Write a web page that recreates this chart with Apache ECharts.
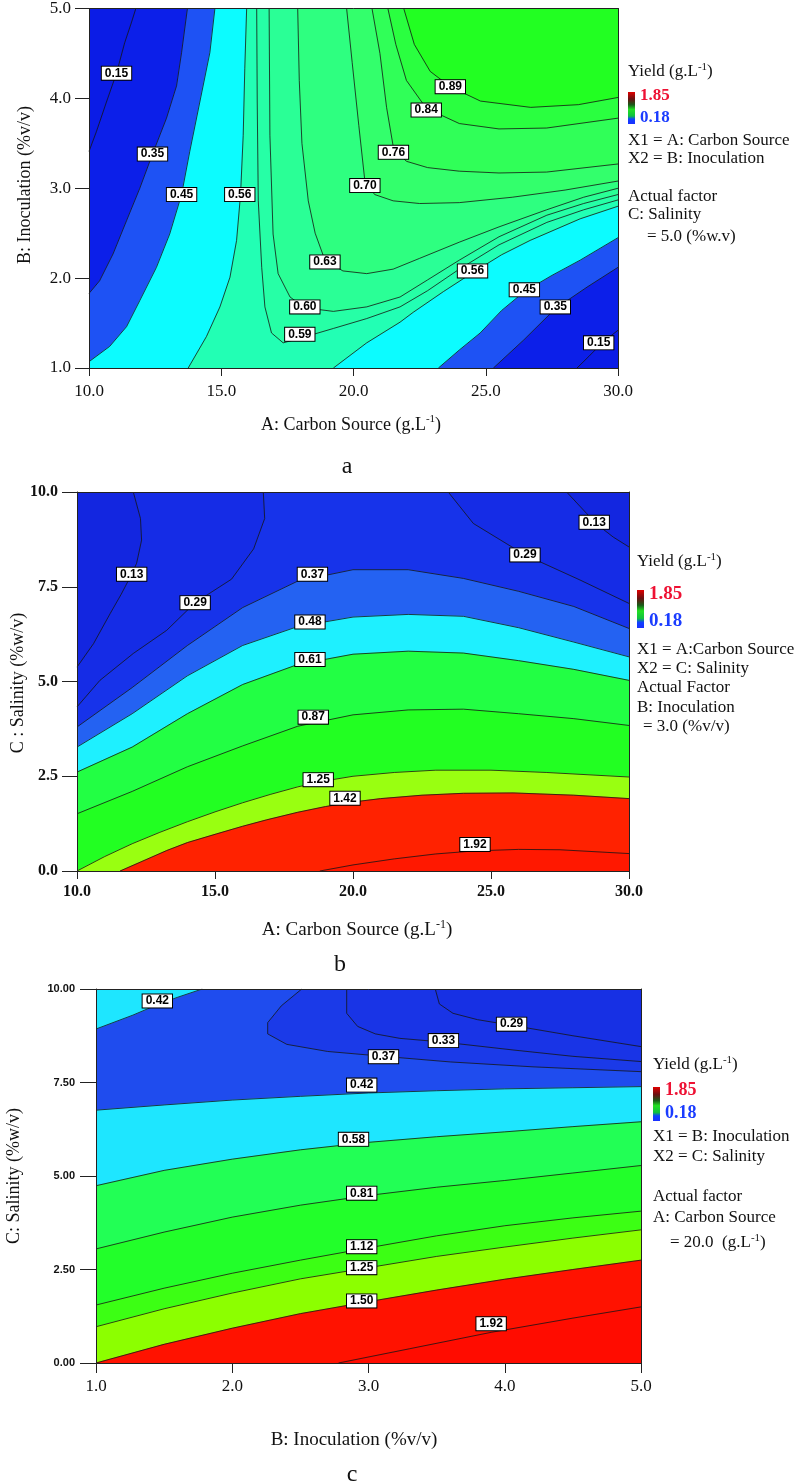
<!DOCTYPE html>
<html>
<head>
<meta charset="utf-8">
<script src="https://cdn.jsdelivr.net/npm/echarts@6/dist/echarts.min.js"></script>
<style>html,body{margin:0;padding:0;background:#fff}#c{width:798px;height:1483px}</style>
</head>
<body>
<div id="c"></div>
<script>
// ===================== DATA =====================
// ---- Panel a: A Carbon Source (x) vs B Inoculation (y), C = 5.0 ----
const aXRange = [10, 30], aYRange = [1, 5];
const a015L = [[11.77,5],[11.60,4.84],[11.35,4.62],[11.04,4.28],[10.66,3.96],[10.28,3.63],[10,3.41]];
const a015R = [[28.45,1],[28.9,1.13],[29.27,1.24],[29.65,1.34],[30,1.42]];
const a035L = [[13.72,5],[13.50,4.51],[13.31,4.14],[12.93,3.78],[12.40,3.38],[11.92,3.0],[11.42,2.64],[10.91,2.27],[10.40,1.97],[10,1.83]];
const a035R = [[25.29,1],[26.43,1.31],[27.63,1.66],[28.83,1.90],[30,2.12]];
const a045L = [[14.76,5],[14.57,4.51],[14.19,3.96],[13.81,3.41],[13.50,2.93],[13.05,2.49],[12.55,2.12],[11.92,1.75],[11.42,1.46],[10.78,1.24],[10,1.07]];
const a045R = [[23.21,1],[24.0,1.2],[24.79,1.39],[25.6,1.64],[26.46,1.85],[27.5,2.03],[28.57,2.2],[30,2.45]];
const a056L = [[15.96,5],[15.89,4.33],[15.83,3.59],[15.73,2.93],[15.58,2.42],[15.33,2.01],[14.95,1.68],[14.44,1.35],[13.75,1]];
const a056R = [[19.24,1],[20.5,1.28],[21.76,1.51],[22.26,1.62],[23.4,1.85],[24.5,2.06],[25.6,2.26],[26.68,2.42],[28.57,2.66],[30,2.80]];
const a059 = [[16.34,5],[16.36,3.96],[16.40,2.86],[16.53,2.12],[16.65,1.68],[16.90,1.39],[17.34,1.28],[17.97,1.33],[19.24,1.44],[20.5,1.55],[21.76,1.68],[22.8,1.86],[24.0,2.1],[25.5,2.37],[27.31,2.62],[28.7,2.76],[30,2.87]];
const a060 = [[16.81,5],[16.84,3.59],[16.96,2.49],[17.15,2.05],[17.60,1.79],[18.16,1.67],[19.24,1.63],[20.5,1.68],[21.76,1.79],[22.8,1.98],[24.0,2.2],[25.5,2.46],[27.31,2.70],[28.7,2.83],[30,2.93]];
const a063 = [[17.89,5],[17.95,4.2],[18.05,3.5],[18.29,2.86],[18.55,2.5],[18.92,2.2],[19.6,2.08],[20.5,2.05],[21.5,2.1],[22.5,2.22],[24,2.4],[25.5,2.57],[27.3,2.76],[28.7,2.9],[30,3.0]];
const a070 = [[19.74,5],[19.95,4.4],[20.2,3.7],[20.43,3.08],[20.8,2.93],[21.5,2.86],[22.5,2.83],[24,2.84],[26,2.9],[28,2.98],[30,3.08]];
const a076 = [[20.7,5],[21.0,4.5],[21.25,3.9],[21.51,3.45],[22.0,3.3],[22.8,3.23],[24.0,3.19],[25.5,3.17],[27.3,3.18],[30,3.27]];
const a084 = [[21.3,5],[21.6,4.6],[22.0,4.2],[22.75,3.89],[24,3.72],[25.5,3.66],[27.3,3.67],[30,3.78]];
const a089 = [[21.9,5],[22.3,4.6],[22.9,4.3],[23.66,4.13],[24.8,3.97],[26.7,3.9],[28.5,3.93],[30,4.01]];
const aLabels = [[11.04,4.28,'0.15'],[12.40,3.38,'0.35'],[13.50,2.93,'0.45'],[15.70,2.93,'0.56'],[17.97,1.375,'0.59'],[18.16,1.68,'0.60'],[18.92,2.18,'0.63'],[20.43,3.03,'0.70'],[21.51,3.40,'0.76'],[22.75,3.87,'0.84'],[23.66,4.13,'0.89'],[24.50,2.08,'0.56'],[26.46,1.87,'0.45'],[27.63,1.68,'0.35'],[29.27,1.28,'0.15']];

// ---- Panel b: A Carbon Source (x) vs C Salinity (y), B = 3.0 ----
const bXRange = [10, 30], bYRange = [0, 10];
const b013L = [[12.04,10],[12.3,9.3],[12.34,8.73],[12.16,8.12],[11.98,7.83],[11.6,7.3],[11.2,6.79],[10.6,6.0],[10,5.38]];
const b013R = [[27.74,10],[28.47,9.43],[28.74,9.2],[29.43,8.81],[30,8.55]];
const b029L = [[16.75,10],[16.8,9.3],[16.4,8.5],[15.6,7.7],[14.28,7.08],[13.25,6.35],[12.04,5.74],[10.83,5.03],[10,4.33]];
const b029R = [[23.45,10],[24.36,9.17],[26.23,8.34],[28.22,7.68],[30,7.06]];
const b037 = [[10,3.80],[12,4.84],[14,5.95],[16,6.95],[18,7.65],[20,7.95],[22,7.95],[24,7.72],[26,7.38],[28,6.98],[30,6.40]];
const b048 = [[10,3.27],[12,4.15],[14,5.15],[16,5.95],[18,6.45],[20,6.7],[22,6.77],[24,6.72],[26,6.42],[28,6.04],[30,5.65]];
const b061 = [[10,2.61],[12,3.27],[14,4.15],[16,4.92],[18,5.45],[20,5.72],[22,5.8],[24,5.75],[26,5.55],[28,5.32],[30,5.03]];
const b087 = [[10,1.51],[12,2.1],[14,2.75],[16,3.3],[18,3.82],[20,4.12],[22,4.25],[24,4.27],[26,4.15],[28,4.02],[30,3.84]];
const b125 = [[10,0],[11,0.38],[12,0.72],[13,1.02],[14,1.3],[15,1.56],[16,1.8],[17,2.02],[18,2.22],[19,2.38],[20,2.5],[21.5,2.6],[23,2.66],[25,2.66],[27,2.6],[30,2.48]];
const b142 = [[11.56,0],[12.5,0.3],[13.25,0.54],[14,0.75],[15.06,0.98],[16,1.18],[16.87,1.35],[18,1.55],[19,1.7],[20,1.82],[21,1.91],[22.5,2.0],[24,2.05],[25.8,2.06],[28,2.0],[30,1.91]];
const b192 = [[18.8,0],[20,0.16],[21.5,0.32],[23,0.45],[24.4,0.53],[26,0.57],[27.5,0.56],[30,0.46]];
const bLabels = [[11.98,7.83,'0.13'],[14.28,7.08,'0.29'],[18.53,7.83,'0.37'],[18.44,6.57,'0.48'],[18.44,5.58,'0.61'],[18.56,4.06,'0.87'],[18.74,2.41,'1.25'],[19.71,1.92,'1.42'],[24.42,0.70,'1.92'],[26.23,8.34,'0.29'],[28.74,9.20,'0.13']];

// ---- Panel c: B Inoculation (x) vs C Salinity (y), A = 20.0 ----
const cXRange = [1, 5], cYRange = [0, 10];
const c029 = [[3.49,10],[3.52,9.6],[3.62,9.35],[3.8,9.18],[4.05,9.03],[4.5,8.75],[5,8.46]];
const c033 = [[2.84,10],[2.84,9.35],[2.92,9.0],[3.05,8.8],[3.23,8.68],[3.55,8.58],[4.06,8.37],[4.5,8.2],[5,8.06]];
const c037 = [[2.51,10],[2.36,9.55],[2.26,9.1],[2.26,8.8],[2.4,8.52],[2.7,8.33],[3.11,8.2],[3.6,8.05],[4.2,7.92],[5,7.79]];
const c042a = [[1,8.93],[1.27,9.30],[1.45,9.58],[1.6,9.78],[1.78,10]];
const c042 = [[1,6.76],[1.5,6.9],[2,7.03],[2.5,7.13],[3,7.22],[3.5,7.28],[4,7.33],[4.5,7.36],[5,7.39]];
const c058 = [[1,4.74],[1.5,5.15],[2,5.45],[2.5,5.7],[3,5.9],[3.5,6.05],[4,6.18],[4.5,6.32],[5,6.45]];
const c081 = [[1,3.05],[1.5,3.5],[2,3.9],[2.5,4.22],[3,4.48],[3.5,4.7],[4,4.88],[4.5,5.08],[5,5.28]];
const c112 = [[1,1.55],[1.5,2.0],[2,2.4],[2.5,2.75],[3,3.08],[3.5,3.4],[4,3.67],[4.5,3.88],[5,4.06]];
const c125 = [[1,0.97],[1.5,1.45],[2,1.87],[2.5,2.25],[3,2.55],[3.5,2.85],[4,3.1],[4.5,3.34],[5,3.56]];
const c150 = [[1,0],[1.5,0.5],[2,0.93],[2.5,1.32],[3,1.64],[3.5,1.95],[4,2.24],[4.5,2.5],[5,2.75]];
const c192 = [[2.78,0],[3.3,0.38],[3.9,0.82],[4.5,1.2],[5,1.5]];
const cLabels = [[1.45,9.68,'0.42'],[3.11,8.19,'0.37'],[3.55,8.62,'0.33'],[4.05,9.06,'0.29'],[2.95,7.43,'0.42'],[2.89,5.98,'0.58'],[2.95,4.54,'0.81'],[2.95,3.11,'1.12'],[2.95,2.55,'1.25'],[2.95,1.66,'1.50'],[3.90,1.05,'1.92']];

// ===================== STYLES =====================
const SERIF = "'Liberation Serif','Times New Roman',serif";
const SANS = "'Liberation Sans',Arial,sans-serif";
const aColors = ['#0b1ce6','#0c1fe9','#1e52f4','#0cfcff','#22ffb4','#26ffa6','#2aff96','#2eff80','#33ff6c','#30ff58','#2aff40','#22ff22'];
const bColors = ['#1326e0','#152ce6','#1733ea','#2462f2','#1ef0ff','#22ff44','#22ff22','#99ff11','#ff2200','#ff1800'];
const cColors = ['#1730e4','#1934e6','#1b3ae8','#1f4cee','#1ee6ff','#1ee6ff','#22ff55','#22ff2a','#3cff14','#8cff00','#ff1200','#ff0c00'];

// ===================== BUILD =====================
const rev = a => a.slice().reverse();
const aPolys = [
  [...a015L, [aXRange[0],aYRange[0]], ...a015R, [aXRange[1],aYRange[1]]],
  [...a035L, [aXRange[0],aYRange[0]], ...a035R, [aXRange[1],aYRange[1]]],
  [...a045L, [aXRange[0],aYRange[0]], ...a045R, [aXRange[1],aYRange[1]]],
  [...a056L, ...a056R, [aXRange[1],aYRange[1]]],
  [...a059, [aXRange[1],aYRange[1]]],
  [...a060, [aXRange[1],aYRange[1]]],
  [...a063, [aXRange[1],aYRange[1]]],
  [...a070, [aXRange[1],aYRange[1]]],
  [...a076, [aXRange[1],aYRange[1]]],
  [...a084, [aXRange[1],aYRange[1]]],
  [...a089, [aXRange[1],aYRange[1]]]
];
const aLines = [a015L,a015R,a035L,a035R,a045L,a045R,a056L,a056R,a059,a060,a063,a070,a076,a084,a089];

const bPolys = [
  [...b013L, [bXRange[0],bYRange[0]], [bXRange[1],bYRange[0]], ...rev(b013R)],
  [...b029L, [bXRange[0],bYRange[0]], [bXRange[1],bYRange[0]], ...rev(b029R)],
  [...b037, [bXRange[1],bYRange[0]], [bXRange[0],bYRange[0]]],
  [...b048, [bXRange[1],bYRange[0]], [bXRange[0],bYRange[0]]],
  [...b061, [bXRange[1],bYRange[0]], [bXRange[0],bYRange[0]]],
  [...b087, [bXRange[1],bYRange[0]], [bXRange[0],bYRange[0]]],
  [...b125, [bXRange[1],bYRange[0]]],
  [...b142, [bXRange[1],bYRange[0]]],
  [...b192, [bXRange[1],bYRange[0]]]
];
const bLines = [b013L,b013R,b029L,b029R,b037,b048,b061,b087,b125,b142,b192];

const cPolys = [
  [...c029, [cXRange[1],cYRange[0]], [cXRange[0],cYRange[0]], [cXRange[0],cYRange[1]]],
  [...c033, [cXRange[1],cYRange[0]], [cXRange[0],cYRange[0]], [cXRange[0],cYRange[1]]],
  [...c037, [cXRange[1],cYRange[0]], [cXRange[0],cYRange[0]], [cXRange[0],cYRange[1]]],
  [...c042a, [cXRange[0],cYRange[1]]],
  [...c042, [cXRange[1],cYRange[0]], [cXRange[0],cYRange[0]]],
  [...c058, [cXRange[1],cYRange[0]], [cXRange[0],cYRange[0]]],
  [...c081, [cXRange[1],cYRange[0]], [cXRange[0],cYRange[0]]],
  [...c112, [cXRange[1],cYRange[0]], [cXRange[0],cYRange[0]]],
  [...c125, [cXRange[1],cYRange[0]], [cXRange[0],cYRange[0]]],
  [...c150, [cXRange[1],cYRange[0]]],
  [...c192, [cXRange[1],cYRange[0]]]
];
const cLines = [c029,c033,c037,c042a,c042,c058,c081,c112,c125,c150,c192];

function fillSeries(gi, xr, yr, polys, colors) {
  const all = [[[xr[0],yr[0]],[xr[1],yr[0]],[xr[1],yr[1]],[xr[0],yr[1]]], ...polys];
  return {
    type:'custom', coordinateSystem:'cartesian2d', xAxisIndex:gi*2, yAxisIndex:gi*2,
    silent:true, z:1, animation:false, clip:true,
    data: all.map((p,i)=>[p[0][0], p[0][1], i]),
    renderItem: (params, api) => {
      const i = params.dataIndex, p = all[i];
      return {type:'polygon', z2:i, shape:{points:p.map(q=>api.coord(q))},
        style:{fill:colors[i], stroke:colors[i], lineWidth:0.6}};
    }
  };
}
function lineSeries(gi, arr) {
  return arr.map(pts => ({type:'line', xAxisIndex:gi*2, yAxisIndex:gi*2, data:pts, symbol:'none',
    silent:true, z:3, animation:false, clip:true, lineStyle:{color:'#151515', width:0.8}}));
}
function labelSeries(gi, arr) {
  return {type:'custom', coordinateSystem:'cartesian2d', xAxisIndex:gi*2, yAxisIndex:gi*2, silent:true, z:6, animation:false,
    data: arr.map(l=>[l[0], l[1]]),
    renderItem: (params, api) => {
      const pt = api.coord([api.value(0), api.value(1)]);
      return {type:'text', x:pt[0], y:pt[1], z2:10,
        style:{text:arr[params.dataIndex][2], align:'center', verticalAlign:'middle',
          fontFamily:SANS, fontSize:12, fontWeight:'bold', fill:'#000',
          backgroundColor:'#ffffff', borderColor:'#000', borderWidth:1, padding:[1,3,0,3], lineHeight:12}};
    }};
}

const grids = [
  {left:89, top:6, width:529, height:362},
  {left:77, top:492, width:552, height:379},
  {left:96, top:989, width:545, height:374}
];
const axisCol = '#222';
function xAxes(gi, xr, interval, fmt, lab, tickLen) {
  return [
    {gridIndex:gi, type:'value', min:xr[0], max:xr[1], interval, position:'bottom', z:10,
     axisLine:{show:true, onZero:false, lineStyle:{color:axisCol, width:1}},
     axisTick:{show:true, length:tickLen, lineStyle:{color:axisCol}},
     axisLabel:Object.assign({formatter:fmt, color:'#111'}, lab), splitLine:{show:false}},
    {gridIndex:gi, type:'value', min:xr[0], max:xr[1], interval, position:'top', z:10,
     axisLine:{show:true, onZero:false, lineStyle:{color:axisCol, width:1}},
     axisTick:{show:false}, axisLabel:{show:false}, splitLine:{show:false}}
  ];
}
function yAxes(gi, yr, interval, fmt, lab, tickLen) {
  return [
    {gridIndex:gi, type:'value', min:yr[0], max:yr[1], interval, position:'left', z:10,
     axisLine:{show:true, onZero:false, lineStyle:{color:axisCol, width:1}},
     axisTick:{show:true, length:tickLen, lineStyle:{color:axisCol}},
     axisLabel:Object.assign({formatter:fmt, color:'#111'}, lab), splitLine:{show:false}},
    {gridIndex:gi, type:'value', min:yr[0], max:yr[1], interval, position:'right', z:10,
     axisLine:{show:true, onZero:false, lineStyle:{color:axisCol, width:1}},
     axisTick:{show:false}, axisLabel:{show:false}, splitLine:{show:false}}
  ];
}
const f1 = v => v.toFixed(1), f2 = v => v.toFixed(2);

// ---- text helpers ----
function txt(x, y, text, size, opts) {
  return Object.assign({type:'text', x, y, z:50, silent:true,
    style:Object.assign({text, fontFamily:SERIF, fontSize:size, fill:'#111', align:'left', verticalAlign:'middle'}, (opts&&opts.style)||{})},
    opts&&opts.el ? opts.el : {});
}
function supTxt(x, y, main, sup, tail, size, align, rotation) {
  return {type:'text', x, y, z:50, silent:true, rotation: rotation||0,
    style:{text:'{m|'+main+'}{s|'+sup+'}{m|'+tail+'}', align: align||'left', verticalAlign:'middle',
      rich:{m:{fontFamily:SERIF, fontSize:size, fill:'#111', lineHeight:size+4, verticalAlign:'middle'},
            s:{fontFamily:SERIF, fontSize:Math.round(size*0.62), fill:'#111', verticalAlign:'top'}}}};
}
function colorBar(x, y, w, h) {
  return {type:'rect', z:50, silent:true, shape:{x, y, width:w, height:h},
    style:{fill:{type:'linear', x:0, y:0, x2:0, y2:1, colorStops:[
      {offset:0, color:'#e00000'},{offset:0.22, color:'#6a1010'},{offset:0.4, color:'#1a5a1a'},
      {offset:0.55, color:'#22e022'},{offset:0.75, color:'#10c040'},{offset:0.85, color:'#1040ff'},{offset:1, color:'#1a30ff'}]}}};
}
function legend(x, y0, barY, barH, hiY, loY, numSize, lines, lastLine) {
  const els = [];
  els.push(supTxt(x, y0, 'Yield (g.L', '-1', ')', 17));
  els.push(colorBar(x, barY, 7, barH));
  els.push(txt(x+12, hiY, '1.85', numSize, {style:{fill:'#ee1133', fontWeight:'bold'}}));
  els.push(txt(x+12, loY, '0.18', numSize, {style:{fill:'#1a3cff', fontWeight:'bold'}}));
  lines.forEach(l => els.push(txt(x, l[1], l[0], 17)));
  els.push(lastLine);
  return els;
}

const graphics = [];
graphics.push(...legend(628, 72, 92, 32, 96, 118, 17,
  [['X1 = A: Carbon Source',141],['X2 = B: Inoculation',159],['Actual factor',197],['C: Salinity',215]],
  txt(647, 237, '= 5.0 (%w.v)', 17)));
graphics.push(...legend(637, 562, 590, 38, 594, 621, 19,
  [['X1 = A:Carbon Source',650],['X2 = C: Salinity',669],['Actual Factor',688],['B: Inoculation',708]],
  txt(643, 727, '= 3.0 (%v/v)', 17)));
graphics.push(...legend(653, 1065, 1087, 34, 1090, 1113, 18,
  [['X1 = B: Inoculation',1137],['X2 = C: Salinity',1157],['Actual factor',1197],['A: Carbon Source',1218]],
  supTxt(670, 1243, '= 20.0  (g.L', '-1', ')', 17)));

// Axis titles
graphics.push(supTxt(351, 425, 'A: Carbon Source (g.L', '-1', ')', 18, 'center'));
graphics.push(txt(25, 185, 'B: Inoculation (%v/v)', 18, {style:{align:'center'}, el:{rotation:Math.PI/2}}));
graphics.push(supTxt(357, 930, 'A: Carbon Source (g.L', '-1', ')', 19, 'center'));
graphics.push(txt(18, 683, 'C : Salinity (%w/v)', 18, {style:{align:'center'}, el:{rotation:Math.PI/2}}));
graphics.push(txt(354, 1440, 'B: Inoculation (%v/v)', 19, {style:{align:'center'}}));
graphics.push(txt(14, 1176, 'C: Salinity (%w/v)', 18, {style:{align:'center'}, el:{rotation:Math.PI/2}}));
// Panel letters
graphics.push(txt(347, 467, 'a', 24, {style:{align:'center'}}));
graphics.push(txt(340, 965, 'b', 24, {style:{align:'center'}}));
graphics.push(txt(352, 1475, 'c', 24, {style:{align:'center'}}));

const labA = {fontFamily:SERIF, fontSize:17, margin:15};
const labAy = {fontFamily:SERIF, fontSize:17, margin:18};
const labB = {fontFamily:SERIF, fontSize:16, fontWeight:'bold', margin:13};
const labBy = {fontFamily:SERIF, fontSize:16, fontWeight:'bold', margin:19};
const labC = {fontFamily:SERIF, fontSize:17, margin:15};
const labCy = {fontFamily:SANS, fontSize:11, fontWeight:'bold', margin:21};

const option = {
  animation:false,
  backgroundColor:'#fff',
  grid: grids,
  xAxis: [
    ...xAxes(0, aXRange, 5, f1, labA, 8),
    ...xAxes(1, bXRange, 5, f1, labB, 8),
    ...xAxes(2, cXRange, 1, f1, labC, 10)
  ],
  yAxis: [
    ...yAxes(0, aYRange, 1, f1, labAy, 14),
    ...yAxes(1, bYRange, 2.5, f1, labBy, 15),
    ...yAxes(2, cYRange, 2.5, f2, labCy, 16)
  ],
  series: [
    fillSeries(0, aXRange, aYRange, aPolys, aColors),
    ...lineSeries(0, aLines),
    labelSeries(0, aLabels),
    fillSeries(1, bXRange, bYRange, bPolys, bColors),
    ...lineSeries(1, bLines),
    labelSeries(1, bLabels),
    fillSeries(2, cXRange, cYRange, cPolys, cColors),
    ...lineSeries(2, cLines),
    labelSeries(2, cLabels)
  ],
  graphic: graphics
};
const chart = echarts.init(document.getElementById('c'), null, {renderer:'canvas', width:798, height:1483});
chart.setOption(option);
</script>
</body>
</html>
